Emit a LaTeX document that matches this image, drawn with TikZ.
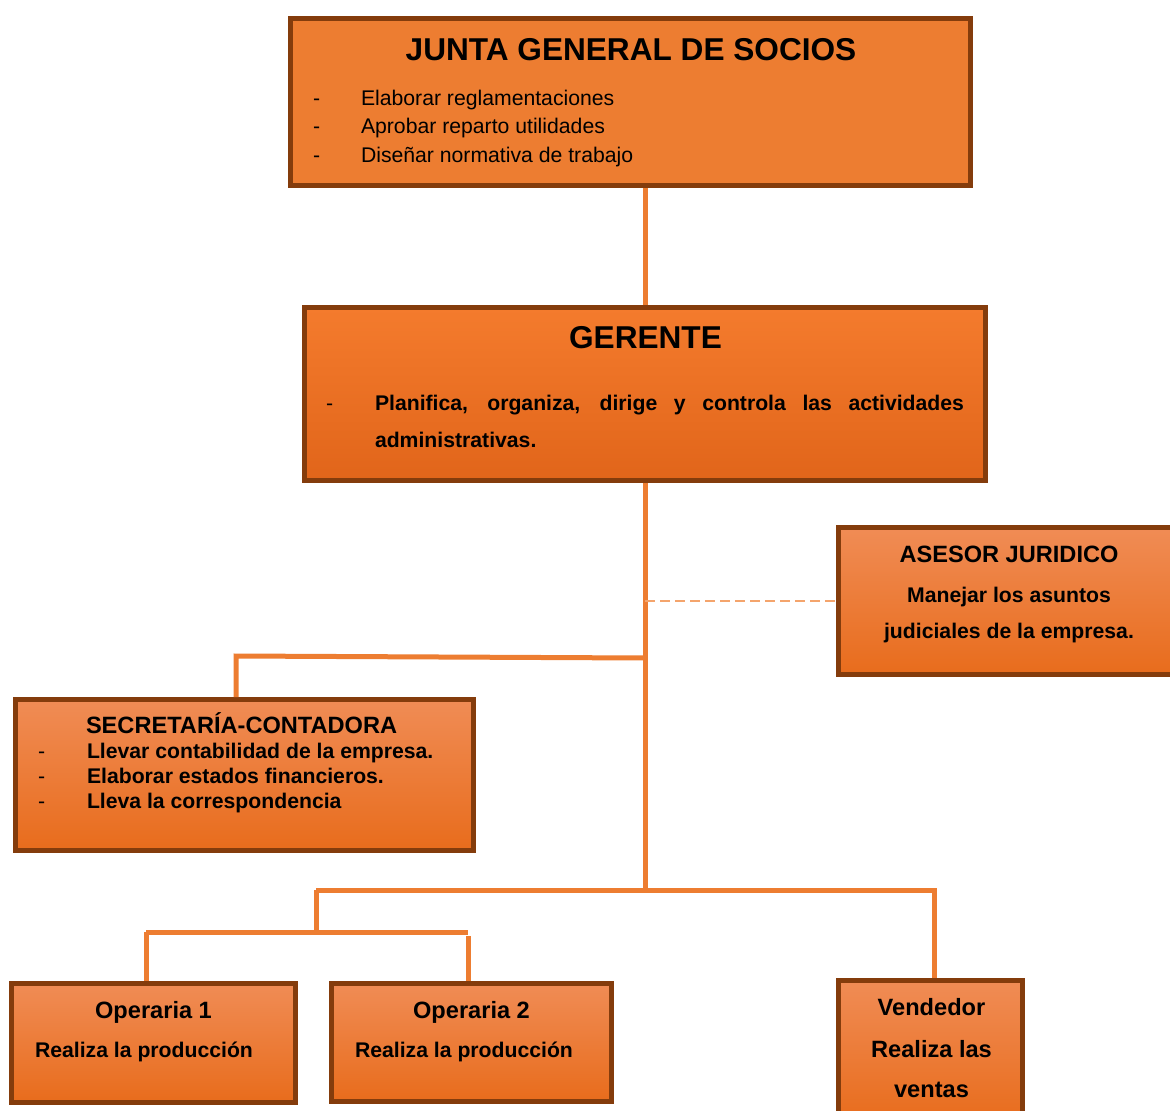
\documentclass[tikz,border=0pt]{standalone}
\usepackage{fontspec}
\setmainfont{Liberation Sans}
\definecolor{boxedge}{HTML}{843C0C}
\definecolor{linkorange}{HTML}{ED7D31}
\definecolor{dashorange}{HTML}{F4A46C}
\definecolor{flatorange}{HTML}{ED7D31}
\definecolor{gerentetop}{HTML}{F47B2D}
\definecolor{gerentebot}{HTML}{E1651A}
\definecolor{unittop}{HTML}{F08C55}
\definecolor{unitbot}{HTML}{E86C1C}

\begin{document}
\begin{tikzpicture}[x=1pt,y=-1pt,
  orgbox/.style={draw=boxedge, line width=5pt, rectangle, inner sep=0pt},
  flatbox/.style={orgbox, fill=flatorange},
  headbox/.style={orgbox, top color=gerentetop, bottom color=gerentebot},
  unitbox/.style={orgbox, top color=unittop, bottom color=unitbot},
  conn/.style={draw=linkorange, line width=5pt},
  dashconn/.style={draw=dashorange, line width=2pt, dash pattern=on 10pt off 5pt},
  txt/.style={inner sep=0pt, outer sep=0pt, text=black},
  bigtitle/.style={txt, anchor=base, font=\fontsize{31.6}{36}\selectfont\bfseries},
  unittitle/.style={txt, font=\fontsize{23.6}{28}\selectfont\bfseries},
  plainitem/.style={txt, anchor=base west, font=\fontsize{21.2}{25}\selectfont},
  bolditem/.style={txt, font=\fontsize{21.2}{25}\selectfont\bfseries},
]
\useasboundingbox (0,0) rectangle (1170,1111);
\clip (0,0) rectangle (1170,1111);

% boxes
\node[flatbox, minimum width=680pt, minimum height=167pt] (junta) at (630.5,102) {};
\node[headbox, minimum width=681pt, minimum height=173pt] (gerente) at (645,394) {};
\node[unitbox, minimum width=341pt, minimum height=147pt] (asesor) at (1009,601) {};
\node[unitbox, minimum width=458pt, minimum height=151pt] (sec) at (244.5,775) {};
\node[unitbox, minimum width=284pt, minimum height=119pt] (op1) at (153.5,1043) {};
\node[unitbox, minimum width=280pt, minimum height=118pt] (op2) at (471.5,1042.5) {};
\node[unitbox, minimum width=184pt, minimum height=142pt] (vend) at (930.5,1051.5) {};

% connectors
\coordinate (hub) at (645,890);
\coordinate (secjoin) at (645,658);
\coordinate (secbend) at (236,656);
\coordinate (opbend) at (316,890);
\coordinate (vendbend) at (934,890);
\coordinate (opjoin) at (316,932);
\coordinate (op1bend) at (146,932);
\coordinate (op2bend) at (468,932);
\coordinate (op2top) at (468,936);

\draw[conn] (gerente.north |- junta.south) -- (gerente.north);
\draw[conn] (gerente.south) -- (hub);
\draw[dashconn] (gerente.south |- asesor.west) -- (asesor.west);
\draw[conn] (secjoin) -- (secbend) -- (secbend |- sec.north);
\draw[conn] (opbend) -- (vendbend) -- (vendbend |- vend.north);
\draw[conn] (opbend) -- (opjoin);
\draw[conn] (op1bend) -- (op2bend);
\draw[conn] (op1bend) -- (op1bend |- op1.north);
\draw[conn] (op2top) -- (op2top |- op2.north);

% junta general de socios
\node[bigtitle] (juntaT) at (631,60) {JUNTA GENERAL DE SOCIOS};
\node[plainitem] (juntaD1) at (313,105) {-};
\node[plainitem] (juntaD2) at (313,133.5) {-};
\node[plainitem] (juntaD3) at (313,162) {-};
\node[plainitem] (juntaI1) at (361,105) {Elaborar reglamentaciones};
\node[plainitem] (juntaI2) at (361,133.5) {Aprobar reparto utilidades};
\node[plainitem] (juntaI3) at (361,162) {Diseñar normativa de trabajo};

% gerente
\node[bigtitle] (gerenteT) at (645.5,348) {GERENTE};
\node[plainitem] (gerenteD) at (326,410) {-};
\node[bolditem, anchor=base west] (gerenteL1) at (375,410)
  {\makebox[589pt][s]{Planifica, organiza, dirige y controla las actividades}};
\node[bolditem, anchor=base west] (gerenteL2) at (375,447) {administrativas.};

% asesor juridico
\node[unittitle, anchor=base] (asesorT) at (1009,562) {ASESOR JURIDICO};
\node[bolditem, anchor=base] (asesorL1) at (1009,602) {Manejar los asuntos};
\node[bolditem, anchor=base] (asesorL2) at (1009,638.5) {judiciales de la empresa.};

% secretaria-contadora
\node[unittitle, anchor=base west] (secT) at (86,733) {SECRETARÍA-CONTADORA};
\node[plainitem] (secD1) at (38,758) {-};
\node[plainitem] (secD2) at (38,783) {-};
\node[plainitem] (secD3) at (38,808) {-};
\node[bolditem, anchor=base west] (secI1) at (87,758) {Llevar contabilidad de la empresa.};
\node[bolditem, anchor=base west] (secI2) at (87,783) {Elaborar estados financieros.};
\node[bolditem, anchor=base west] (secI3) at (87,808) {Lleva la correspondencia};

% operarias
\node[unittitle, anchor=base] (op1T) at (153.5,1018) {Operaria 1};
\node[bolditem, anchor=base west] (op1L) at (35,1057) {Realiza la producción};
\node[unittitle, anchor=base] (op2T) at (471.5,1018) {Operaria 2};
\node[bolditem, anchor=base west] (op2L) at (355,1057) {Realiza la producción};

% vendedor
\node[unittitle, anchor=base] (vendT) at (931.5,1015) {Vendedor};
\node[unittitle, anchor=base] (vendL1) at (931.5,1057) {Realiza las};
\node[unittitle, anchor=base] (vendL2) at (931.5,1097) {ventas};
\end{tikzpicture}
\end{document}
